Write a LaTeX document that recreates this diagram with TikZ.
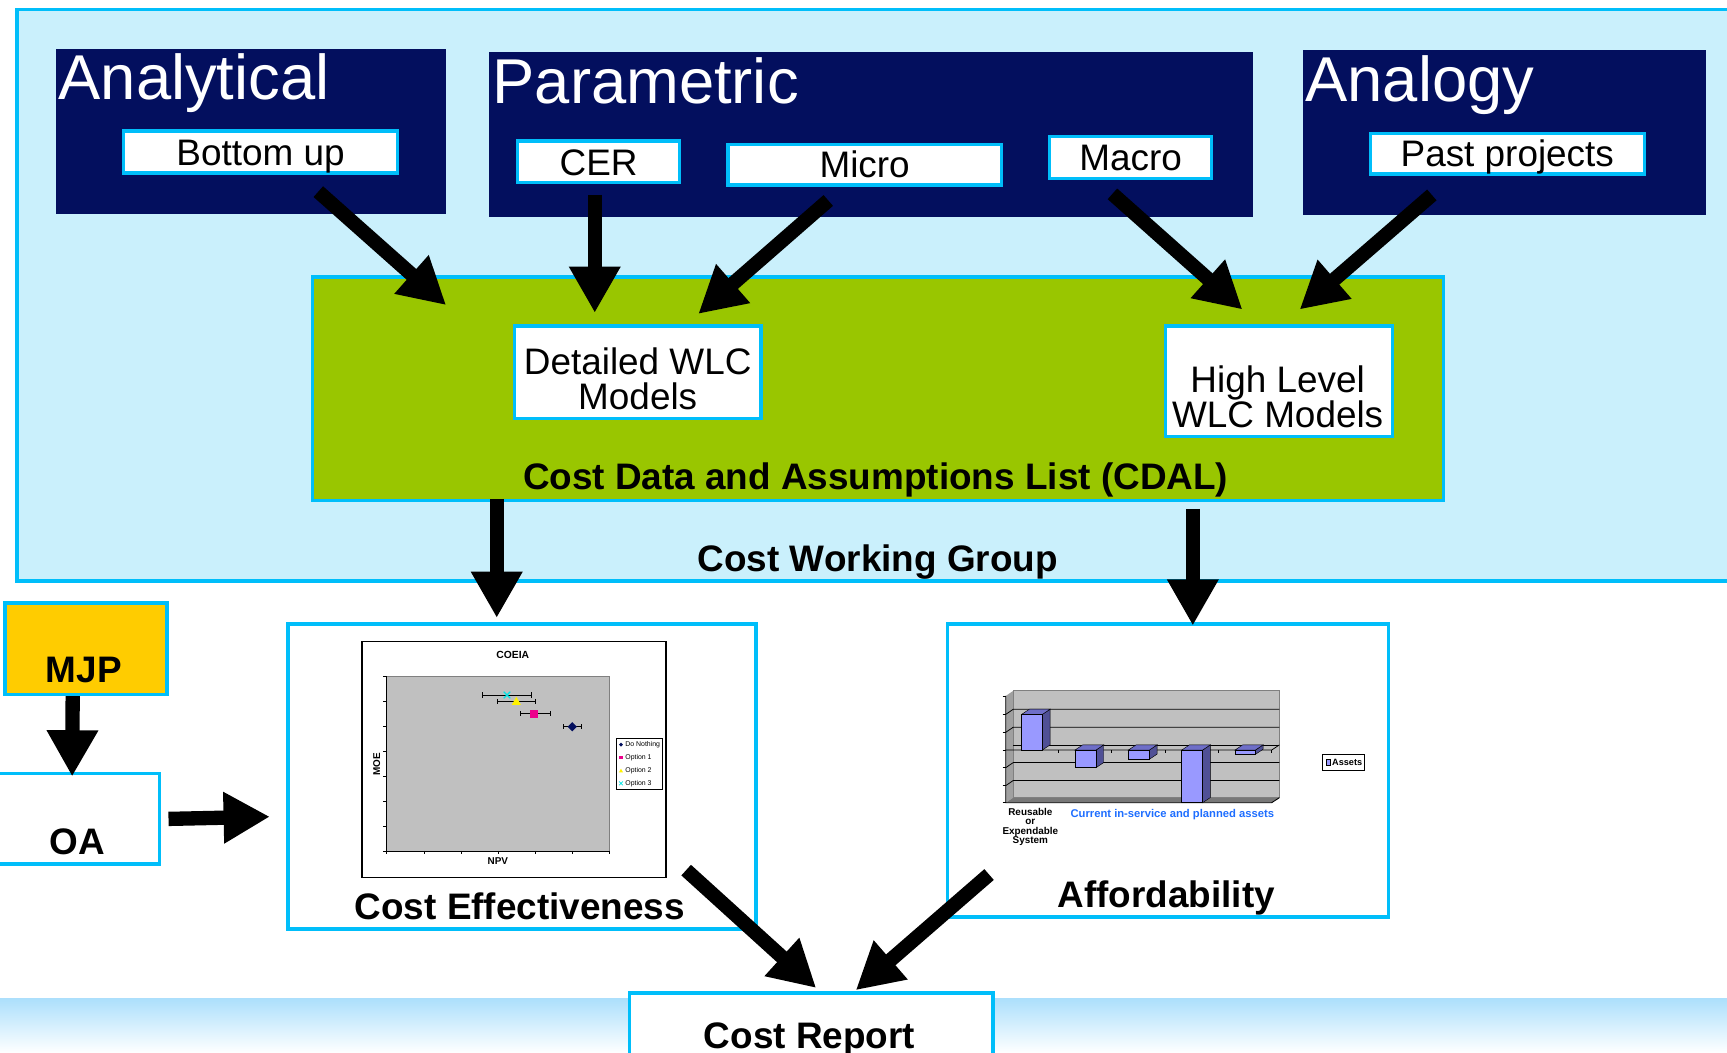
\documentclass[tikz,border=0pt]{standalone}
\usepackage{fontspec}
\setmainfont{Liberation Sans}
\usetikzlibrary{arrows.meta,calc}

\definecolor{skyline}{RGB}{0,190,250}
\definecolor{paleblue}{RGB}{202,240,252}
\definecolor{navy}{RGB}{3,15,94}
\definecolor{cdalgreen}{RGB}{153,198,0}
\definecolor{mjpgold}{RGB}{255,204,0}
\definecolor{bandblue}{RGB}{173,224,252}
\definecolor{plotgray}{RGB}{192,192,192}
\definecolor{wallgray}{RGB}{160,160,160}
\definecolor{floorgray}{RGB}{120,120,120}
\definecolor{barface}{RGB}{153,153,255}
\definecolor{barside}{RGB}{80,80,150}
\definecolor{bartop}{RGB}{110,110,200}
\definecolor{assetblue}{RGB}{30,110,255}
\definecolor{markcyan}{RGB}{0,230,230}

\tikzset{
  panel/.style={fill=navy, draw=none, inner sep=0pt, anchor=north west},
  panelhead/.style={text=white, font=\fontsize{57.5}{60}\selectfont, anchor=base west, inner sep=0pt},
  tag/.style={fill=white, draw=skyline, line width=3pt, inner sep=0pt,
    font=\fontsize{33.5}{33}\selectfont, text height=24pt, text depth=0pt},
  modelbox/.style={fill=white, draw=skyline, line width=3pt, inner sep=0pt},
  modeltext/.style={align=center, inner sep=0pt, font=\fontsize{33.5}{32}\selectfont},
  framebox/.style={fill=white, draw=skyline, line width=3pt, inner sep=0pt, anchor=north west},
  boldlbl/.style={font=\bfseries\fontsize{33.5}{34}\selectfont, anchor=base, inner sep=0pt},
  bigarrow/.style={line width=13pt, -{Triangle[length=42pt,width=44pt]}},
  errbar/.style={black, line width=0.8pt},
  thinline/.style={black, line width=0.6pt},
}

\begin{document}
\begin{tikzpicture}[x=1pt,y=-1pt]
\useasboundingbox (0,0) rectangle (1568,956);

% pale band along the foot of the page
\fill[top color=bandblue, bottom color=white] (0,907) rectangle (1568,956);

% Cost Working Group frame
\node[draw=skyline, fill=paleblue, line width=3pt, minimum width=1575, minimum height=519,
      anchor=north west, inner sep=0pt] (cwg) at (14,7) {};
\node[boldlbl] (cwg-t) at (797,519) {Cost Working Group};

% estimating methods
\node[panel, minimum width=354, minimum height=150] (analytical) at (51,44) {};
\node[panelhead] (analytical-t) at (53,90) {Analytical};
\node[panel, minimum width=693, minimum height=150] (parametric) at (444,47) {};
\node[panelhead] (parametric-t) at (447,94) {Parametric};
\node[panel, minimum width=366, minimum height=150] (analogy) at (1183,45) {};
\node[panelhead] (analogy-t) at (1185,92) {Analogy};

\node[tag, minimum width=249, minimum height=38] (bottomup) at (236.5,138) {Bottom up};
\node[tag, minimum width=147, minimum height=38] (cer) at (543.5,147) {CER};
\node[tag, minimum width=248, minimum height=37] (micro) at (785,149.5) {Micro};
\node[tag, minimum width=147, minimum height=38] (macro) at (1026.5,143) {Macro};
\node[tag, minimum width=249, minimum height=37] (past) at (1368.5,139.5) {Past projects};

% CDAL
\node[draw=skyline, fill=cdalgreen, line width=3pt, minimum width=1027, minimum height=203,
      anchor=north west, inner sep=0pt] (cdal) at (282,250) {};
\node[boldlbl] (cdal-t) at (795,444) {Cost Data and Assumptions List (CDAL)};

\node[modelbox, minimum width=224, minimum height=84] (dwlc) at (579,338) {};
\node[modeltext] (dwlc-t) at (579,344) {Detailed WLC\\Models};
\node[modelbox, minimum width=206, minimum height=100] (hwlc) at (1161,346) {};
\node[modeltext] (hwlc-t) at (1160,360) {High Level\\WLC Models};

% lower row
\node[framebox, fill=mjpgold, minimum width=147, minimum height=83] (mjp) at (3,546) {};
\node[boldlbl] (mjp-t) at (76,620) {MJP};
\node[framebox, minimum width=150, minimum height=82] (oa) at (-7,701) {};
\node[boldlbl] (oa-t) at (70,776) {OA};

\node[framebox, minimum width=425, minimum height=277] (ce) at (260,565) {};
\node[boldlbl] (ce-t) at (472,835) {Cost Effectiveness};
\node[framebox, minimum width=400, minimum height=266] (aff) at (859,565) {};
\node[boldlbl] (aff-t) at (1059,824) {Affordability};
\node[framebox, minimum width=330, minimum height=70] (cr) at (570,900) {};
\node[boldlbl] (cr-t) at (735,952) {Cost Report};

% ---- COEIA scatter chart ----
\node[draw=black, line width=1.2pt, fill=white, minimum width=276, minimum height=214,
      anchor=north west, inner sep=0pt] (coeia) at (328,582) {};
\fill[plotgray] (351,614.4) rectangle (553.2,772.6);
\draw[gray, line width=0.8pt] (351,614.4) rectangle (553.2,772.6);
\draw[thinline, line width=0.8pt] (351,614.4) -- (351,772.6) -- (553.2,772.6);
\foreach \t in {614.4,637.1,659.8,682.5,705.2,727.9,750.6,772.6}
  \draw[thinline] (348,\t) -- (351,\t);
\foreach \t in {351.1,385,418.6,452.5,486,519.6,553.2}
  \draw[thinline] (\t,772.6) -- (\t,775.5);
\node[font=\bfseries\fontsize{9.4}{10}\selectfont, inner sep=0pt] (coeia-title) at (465.5,594.7) {COEIA};
\node[font=\bfseries\fontsize{9}{10}\selectfont, inner sep=0pt] (coeia-x) at (452,781.4) {NPV};
\node[font=\bfseries\fontsize{9}{10}\selectfont, inner sep=0pt, rotate=90] (coeia-y) at (342,693.7) {MOE};

% error bars with end caps
\foreach \a/\b/\y in {438.2/482.4/631.0, 451.2/486.4/636.8, 472.4/499.4/648.0, 511.2/527.8/659.8}
  \draw[errbar] (\a,\y) -- (\b,\y) (\a,\y-2.3) -- (\a,\y+2.3) (\b,\y-2.3) -- (\b,\y+2.3);
% markers
\fill[navy] (519.6,655.6) -- (523.8,659.8) -- (519.6,664) -- (515.4,659.8) -- cycle;
\fill[magenta] (481.6,644.5) rectangle (488.6,651.5);
\fill[yellow] (468.8,632.6) -- (472.9,639.9) -- (464.7,639.9) -- cycle;
\draw[markcyan, line width=1.1pt] (457.3,628) -- (463.3,634) (457.3,634) -- (463.3,628);

% legend
\draw[black, fill=white, line width=0.8pt] (559.9,670.4) rectangle (601.4,716.7);
\fill[navy] (563.8,674.3) -- (565.6,676.1) -- (563.8,677.9) -- (562,676.1) -- cycle;
\fill[magenta] (562.2,686.3) rectangle (565.4,689.5);
\fill[yellow] (563.8,697.9) -- (565.7,701.3) -- (561.9,701.3) -- cycle;
\draw[markcyan, line width=0.7pt] (562.1,709.5) -- (565.5,712.9) (562.1,712.9) -- (565.5,709.5);
\foreach \y/\s in {676.1/Do Nothing, 687.9/Option 1, 699.7/Option 2, 711.2/Option 3}
  \node[font=\fontsize{6.3}{7}\selectfont, anchor=west, inner sep=0pt] at (567.6,\y) {\s};

% ---- Affordability bar chart ----
\fill[wallgray] (913.1,631.9) -- (920,627.2) -- (920,724.2) -- (913.1,728.8) -- cycle;
\fill[plotgray] (920,627.2) rectangle (1161.6,724.2);
\fill[floorgray] (913.1,728.8) -- (920,724.2) -- (1161.6,724.2) -- (1154.6,728.8) -- cycle;
\draw[gray, line width=0.8pt] (920,627.2) rectangle (1161.6,724.2);
\foreach \f/\b in {648.6/643.9, 664.9/660.2, 697.0/692.3, 713.3/708.6}
  \draw[thinline, line width=0.7pt] (913.1,\f) -- (920,\b) -- (1161.6,\b);
\draw[thinline, line width=0.7pt] (913.1,681.0) -- (1154.6,681.0) -- (1161.6,676.3);
\draw[thinline, line width=0.7pt] (920,676.3) -- (1161.6,676.3);
\draw[thinline, line width=0.8pt] (913.1,631.9) -- (913.1,728.8) -- (1154.6,728.8) -- (1161.6,724.2);
\foreach \t in {631.9,648.6,664.9,681.0,697.0,713.3,728.8}
  \draw[thinline] (910.3,\t) -- (913.1,\t);
\foreach \t in {960.9,1009.3,1057.7,1106.2,1154.6}
  \draw[thinline] (\t,681) -- (\t,683.3);
% bars: left, right, top of front face, bottom of front face
\foreach \a/\b/\t/\u in {927.6/946.4/648.6/681.0, 976.0/995.1/681.0/697.0,
                         1024.5/1043.5/681.0/689.4, 1072.9/1091.9/681.0/728.8,
                         1121.3/1139.8/681.0/684.9}{
  \filldraw[barside, draw=black, line width=0.4pt] (\b,\t) -- (\b+7,\t-4.7) -- (\b+7,\u-4.7) -- (\b,\u) -- cycle;
  \filldraw[bartop, draw=black, line width=0.4pt] (\a,\t) -- (\a+7,\t-4.7) -- (\b+7,\t-4.7) -- (\b,\t) -- cycle;
  \filldraw[barface, draw=black, line width=0.4pt] (\a,\t) rectangle (\b,\u);
}
\node[font=\bfseries\fontsize{9}{8.6}\selectfont, align=center, inner sep=0pt] (aff-cat)
  at (935.5,750.7) {Reusable\\or\\Expendable\\System};
\node[font=\bfseries\fontsize{10.2}{11}\selectfont, text=assetblue, inner sep=0pt] (aff-axis)
  at (1064.4,739.4) {Current in-service and planned assets};
\draw[black, fill=white, line width=0.9pt] (1200.9,684.9) rectangle (1239.3,699.1);
\filldraw[barface, draw=black, line width=0.5pt] (1203.8,689.8) rectangle (1208.2,694.4);
\node[font=\bfseries\fontsize{8.3}{9}\selectfont, anchor=west, inner sep=0pt] (aff-key) at (1209.3,692.3) {Assets};

% ---- flows ----
\coordinate (bu-out) at (289,174);   \coordinate (cdal-in1) at (405,277);
\coordinate (cer-out) at (540,177);  \coordinate (cdal-in2) at (540,284);
\coordinate (mi-out) at (752,182);   \coordinate (cdal-in3) at (634,285);
\coordinate (ma-out) at (1010,176);  \coordinate (cdal-in4) at (1128,281);
\coordinate (pp-out) at (1300,177);  \coordinate (cdal-in5) at (1180,281);
\coordinate (cdal-out1) at (451,453); \coordinate (ce-in) at (451,561);
\coordinate (cdal-out2) at (1083,462); \coordinate (aff-in) at (1083,568);
\coordinate (ce-out) at (623,790);   \coordinate (cr-in1) at (741,897);
\coordinate (aff-out) at (898,794);  \coordinate (cr-in2) at (777,899);
\coordinate (ce-in-left) at (245,741.5);

\draw[bigarrow] (bu-out) -- (cdal-in1);
\draw[bigarrow] (cer-out) -- (cdal-in2);
\draw[bigarrow] (mi-out) -- (cdal-in3);
\draw[bigarrow] (ma-out) -- (cdal-in4);
\draw[bigarrow] (pp-out) -- (cdal-in5);
\draw[bigarrow] (cdal-out1) -- (ce-in);
\draw[bigarrow] (cdal-out2) -- (aff-in);
\draw[bigarrow] ([xshift=-12pt]mjp.south) -- ([xshift=-4pt,yshift=-4pt]oa.north);
\draw[bigarrow] ([xshift=7pt]oa.east) -- (ce-in-left);
\draw[bigarrow] (ce-out) -- (cr-in1);
\draw[bigarrow] (aff-out) -- (cr-in2);
\end{tikzpicture}
\end{document}
